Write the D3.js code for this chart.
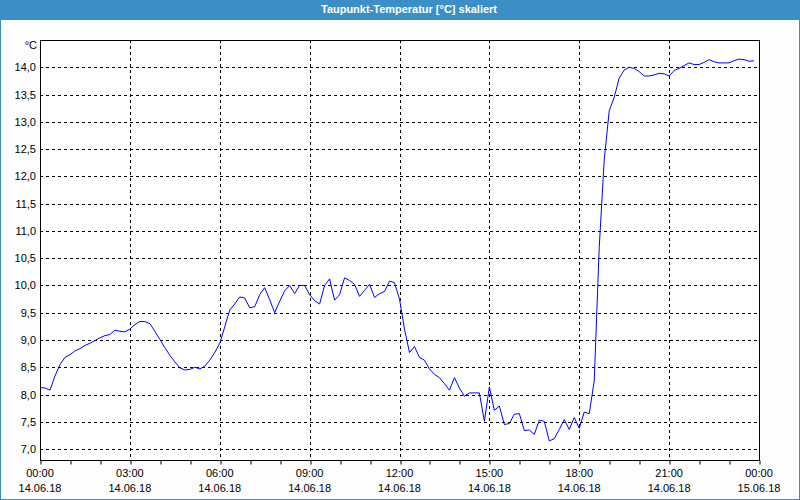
<!DOCTYPE html>
<html><head><meta charset="utf-8">
<script src="https://cdn.jsdelivr.net/npm/d3@7"></script>
<style>html,body{margin:0;padding:0;background:#fcfdfc;}svg{display:block;}</style>
</head><body><div id="chart"></div>
<script>
const title = "Taupunkt-Temperatur [°C] skaliert";
const unit = "°C";
// sample times: every 10 minutes from 00:00 on 14.06.18
const sampleMinutes = d3.range(0, 144).map(i => i * 10);
const values = [
 8.13,8.12,8.08,8.34,8.55,8.68,8.73,8.80,8.84,8.90,
 8.94,8.99,9.04,9.08,9.10,9.18,9.16,9.15,9.20,9.28,
 9.34,9.34,9.30,9.16,9.01,8.86,8.72,8.60,8.49,8.45,
 8.46,8.50,8.47,8.52,8.63,8.77,8.94,9.24,9.55,9.66,
 9.79,9.77,9.59,9.61,9.83,9.96,9.74,9.50,9.71,9.90,
 10.00,9.85,10.00,10.00,9.83,9.72,9.66,10.00,10.12,9.73,
 9.83,10.14,10.09,10.02,9.80,9.91,10.02,9.78,9.85,9.89,
 10.08,10.05,9.75,9.20,8.77,8.88,8.68,8.63,8.47,8.37,
 8.31,8.20,8.08,8.31,8.12,7.97,8.03,8.03,8.03,7.51,
 8.14,7.71,7.79,7.45,7.47,7.64,7.65,7.34,7.35,7.27,
 7.53,7.51,7.15,7.19,7.36,7.54,7.36,7.58,7.38,7.68,
 7.65,8.25,10.70,12.30,13.20,13.45,13.80,13.95,14.00,13.98,
 13.92,13.84,13.84,13.86,13.89,13.88,13.84,13.94,13.98,14.03,
 14.08,14.05,14.05,14.09,14.14,14.10,14.08,14.08,14.08,14.12,
 14.15,14.14,14.11,14.12
];
const yTicks = [7.0,7.5,8.0,8.5,9.0,9.5,10.0,10.5,11.0,11.5,12.0,12.5,13.0,13.5,14.0];
const xTickHours = [0,3,6,9,12,15,18,21,24];
const xTimeLabels = ["00:00","03:00","06:00","09:00","12:00","15:00","18:00","21:00","00:00"];
const xDateLabels = ["14.06.18","14.06.18","14.06.18","14.06.18","14.06.18","14.06.18","14.06.18","14.06.18","15.06.18"];

const W = 800, H = 500;
const L = 40, R = 759, T = 40, B = 460;
const svg = d3.select("#chart").append("svg").attr("width", W).attr("height", H);
const font = "'Liberation Sans', Arial, sans-serif";

svg.append("rect").attr("x",0.5).attr("y",0.5).attr("width",W-1).attr("height",H-1)
  .attr("fill","#fcfdfc").attr("stroke","#3c8fc6");
svg.append("rect").attr("x",0).attr("y",0).attr("width",W).attr("height",20).attr("fill","#3c8fc6");
svg.append("text").attr("x",409).attr("y",13).attr("text-anchor","middle")
  .attr("fill","#ffffff").attr("font-family",font).attr("font-size","11px").attr("font-weight","bold")
  .attr("textLength",176).attr("lengthAdjust","spacingAndGlyphs").text(title);

const x = d3.scaleLinear().domain([0, 24*60]).range([L, R]);
const y = d3.scaleLinear().domain([6.8, 14.5]).range([B, T]);

svg.append("rect").attr("x",L+0.5).attr("y",T+0.5).attr("width",R-L).attr("height",B-T)
  .attr("fill","#ffffff");

const grid = svg.append("g").attr("stroke","#000").attr("stroke-width",1).attr("stroke-dasharray","3,3");
grid.selectAll("line.h").data(yTicks).join("line")
  .attr("x1",L).attr("x2",R).attr("y1",d=>Math.round(y(d))+0.5).attr("y2",d=>Math.round(y(d))+0.5);
grid.selectAll("line.v").data(xTickHours.slice(1,-1)).join("line")
  .attr("y1",T).attr("y2",B).attr("x1",d=>Math.round(x(d*60))+0.5).attr("x2",d=>Math.round(x(d*60))+0.5);

// bottom axis with hourly ticks
const xAxis = d3.axisBottom(x).tickValues(d3.range(0,25).map(h=>h*60)).tickSize(4).tickFormat("");
const gx = svg.append("g").attr("transform",`translate(0.5,${B+0.5})`).call(xAxis);
gx.select(".domain").remove();
gx.selectAll("line").attr("stroke","#000").attr("transform", d => `translate(${Math.round(x(d))-x(d)},0)`);

svg.append("rect").attr("x",L+0.5).attr("y",T+0.5).attr("width",R-L).attr("height",B-T)
  .attr("fill","none").attr("stroke","#000");

// y labels
svg.append("g").selectAll("text").data(yTicks).join("text")
  .attr("x",36).attr("y",d=>y(d)+4).attr("text-anchor","end")
  .attr("font-family",font).attr("font-size","11px").attr("fill","#000")
  .text(d=>d.toFixed(1).replace(".",","));
svg.append("text").attr("x",37).attr("y",49).attr("text-anchor","end")
  .attr("font-family",font).attr("font-size","11px").attr("fill","#000").text(unit);

// x labels
const xl = svg.append("g").attr("font-family",font).attr("font-size","11px").attr("fill","#000").attr("text-anchor","middle");
xl.selectAll("text.t").data(xTickHours).join("text").attr("class","t")
  .attr("x",(d)=>x(d*60)).attr("y",477).text((d,i)=>xTimeLabels[i]);
xl.selectAll("text.d").data(xTickHours).join("text").attr("class","d")
  .attr("x",(d)=>x(d*60)).attr("y",492).text((d,i)=>xDateLabels[i]);

// line
const line = d3.line().x((d,i)=>x(sampleMinutes[i])).y(d=>y(d));
svg.append("path").datum(values).attr("d",line).attr("fill","none")
  .attr("stroke","#0000ff").attr("stroke-width",1);
</script></body></html>
